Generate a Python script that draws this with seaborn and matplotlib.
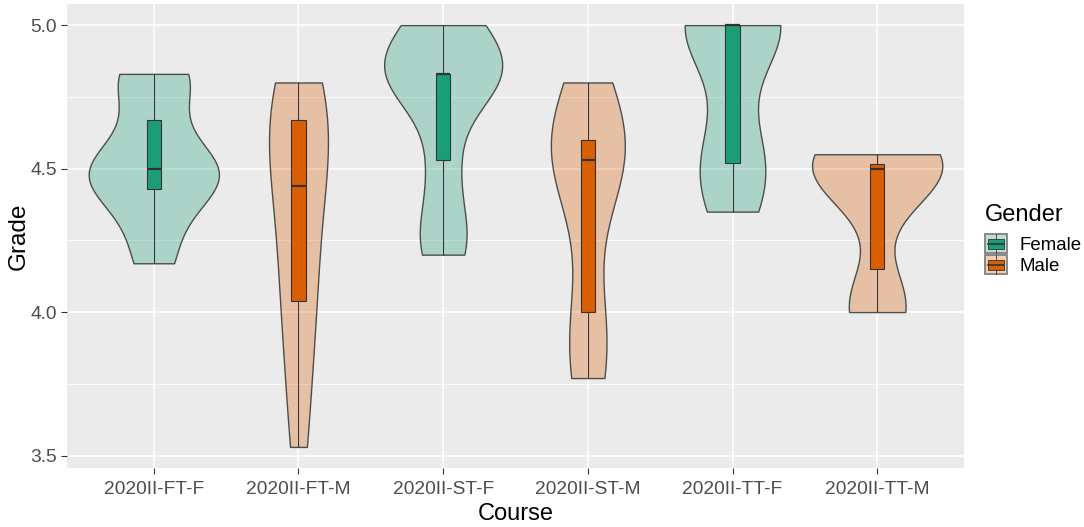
import numpy as np
import pandas as pd
import seaborn as sns
import matplotlib.pyplot as plt
from matplotlib.patches import Rectangle, Patch
from matplotlib.lines import Line2D
from matplotlib.legend_handler import HandlerBase
from matplotlib.colors import to_rgba

plt.rcParams['font.family'] = ['Liberation Sans', 'DejaVu Sans']

# Grades per course
courses = ["2020II-FT-F", "2020II-FT-M", "2020II-ST-F", "2020II-ST-M", "2020II-TT-F", "2020II-TT-M"]
genders = ["Female", "Male", "Female", "Male", "Female", "Male"]
ft_f = [4.17, 4.33, 4.43, 4.5, 4.5, 4.5, 4.67, 4.83, 4.83]
ft_m = [3.53, 3.75, 3.95, 4.04, 4.2, 4.3, 4.44, 4.5, 4.6, 4.67, 4.7, 4.8, 4.8]
st_f = [4.2, 4.3, 4.53, 4.8, 4.83, 4.83, 4.83, 5.0, 5.0]
st_m = [3.77, 3.87, 4.0, 4.5, 4.53, 4.55, 4.6, 4.6, 4.8]
tt_f = [4.35, 4.45, 4.52, 4.6, 5.0, 5.0, 5.0, 5.0, 5.0]
tt_m = [4.0, 4.0, 4.05, 4.45, 4.5, 4.5, 4.5, 4.52, 4.55, 4.55]
grades = [ft_f, ft_m, st_f, st_m, tt_f, tt_m]

rows = []
for c, g, vals in zip(courses, genders, grades):
    for v in vals:
        rows.append({"Course": c, "Gender": g, "Grade": v})
df = pd.DataFrame(rows)

palette = {"Female": "#1B9E77", "Male": "#D95F02"}


# R's bw.nrd0 rule, as used by ggplot's geom_violin
def nrd0(kde):
    x = np.asarray(kde.dataset).ravel()
    sd = x.std(ddof=1)
    q25, q75 = np.percentile(x, [25, 75])
    lo = min(sd, (q75 - q25) / 1.34)
    return 0.9 * lo / sd * len(x) ** (-0.2)


fig = plt.figure(figsize=(10.84, 5.27), dpi=100)
ax = fig.add_axes([67 / 1084, 1 - 468 / 527, 897 / 1084, 464 / 527])
ax.set_facecolor("#EBEBEB")

sns.violinplot(data=df, x="Course", y="Grade", hue="Gender", order=courses,
               palette=palette, saturation=1, inner=None, cut=0,
               density_norm="area", width=0.9, bw_method=nrd0, dodge=False,
               linecolor="#4d4d4d", linewidth=1.0, legend=False, ax=ax)
for coll in ax.collections:
    fc = coll.get_facecolor()
    fc[:, 3] = 0.3
    coll.set_facecolor(fc)

sns.boxplot(data=df, x="Course", y="Grade", hue="Gender", order=courses,
            palette=palette, saturation=1, width=0.1, dodge=False,
            whis=np.inf, showcaps=False, linecolor="#333333", linewidth=0.8,
            medianprops={"linewidth": 1.6}, legend=False, ax=ax)

lo = min(min(v) for v in grades)
hi = max(max(v) for v in grades)
pad = (hi - lo) * 0.05
ax.set_ylim(lo - pad, hi + pad)
ax.set_xlim(-0.6, len(courses) - 0.4)
ax.set_yticks([3.5, 4.0, 4.5, 5.0])
ax.set_yticklabels(["3.5", "4.0", "4.5", "5.0"])
ax.set_yticks([3.75, 4.25, 4.75], minor=True)

ax.set_axisbelow(True)
ax.grid(which="major", color="white", linewidth=1.1)
ax.grid(which="minor", axis="y", color="white", linewidth=0.55)
for s in ax.spines.values():
    s.set_visible(False)
ax.tick_params(which="major", length=4, width=0.8, color="#333333",
               labelcolor="#4D4D4D", labelsize=13.8)
ax.tick_params(axis="x", which="major", pad=5)
ax.tick_params(which="minor", length=0)

ax.set_xlabel("Course", fontsize=17, color="black", labelpad=4)
ax.set_ylabel("Grade", fontsize=17.5, color="black", labelpad=0)


class BoxViolinHandler(HandlerBase):
    def create_artists(self, legend, orig_handle, xdescent, ydescent,
                       width, height, fontsize, trans):
        dark = orig_handle.get_facecolor()
        light = to_rgba(dark, 0.3)
        x0, y0 = -xdescent, -ydescent
        outer = Rectangle((x0, y0), width, height, facecolor=light,
                          edgecolor="#7f7f7f", linewidth=1.3, transform=trans)
        inner = Rectangle((x0 + width * 0.12, y0 + height * 0.25), width * 0.76, height * 0.5,
                          facecolor=dark, edgecolor="#333333", linewidth=0.6, transform=trans)
        med = Line2D([x0 + width * 0.12, x0 + width * 0.88], [y0 + height / 2] * 2,
                     color="#333333", linewidth=1.2, transform=trans)
        w1 = Line2D([x0 + width / 2] * 2, [y0, y0 + height * 0.25],
                    color="#333333", linewidth=0.6, transform=trans)
        w2 = Line2D([x0 + width / 2] * 2, [y0 + height * 0.75, y0 + height],
                    color="#333333", linewidth=0.6, transform=trans)
        return [outer, inner, med, w1, w2]


handles = [Patch(facecolor=palette[g]) for g in ["Female", "Male"]]
leg = fig.legend(handles, ["Female", "Male"], title="Gender",
                 handler_map={h: BoxViolinHandler() for h in handles},
                 loc="upper left", bbox_to_anchor=(985 / 1084, 1 - 204 / 527),
                 frameon=False, fontsize=13.4, title_fontsize=17,
                 handlelength=1.18, handleheight=1.2, labelspacing=0.06,
                 handletextpad=0.65, borderpad=0, borderaxespad=0,
                 alignment="left")
leg._legend_box.sep = 6

fig.savefig("out.png", dpi=100)
